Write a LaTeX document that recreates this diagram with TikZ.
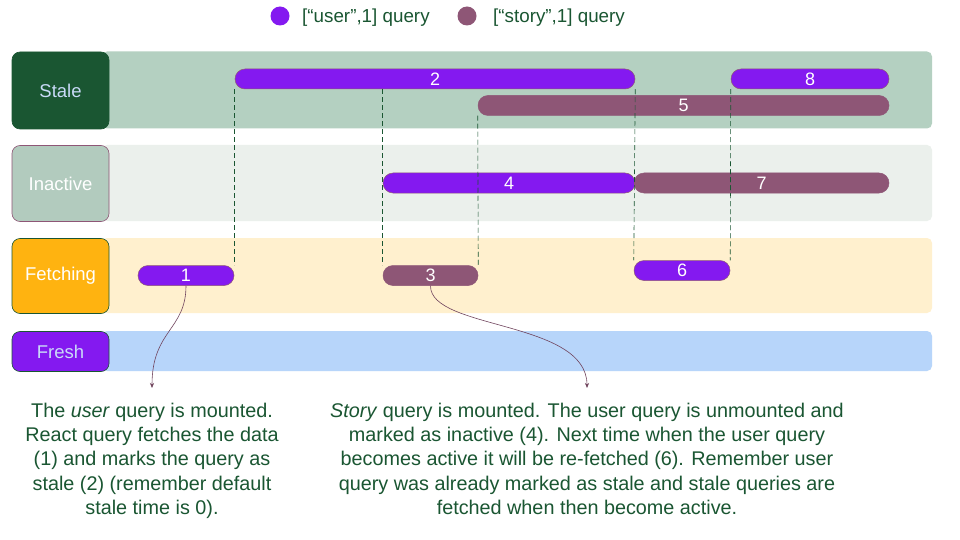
\documentclass[tikz,border=0pt]{standalone}
\usepackage{fontspec}
\setmainfont{Liberation Sans}
\usetikzlibrary{arrows.meta}
\definecolor{dgreen}{HTML}{1A5632}
\definecolor{staleband}{HTML}{B4D0C1}
\definecolor{inactband}{HTML}{EBF0EC}
\definecolor{inactlab}{HTML}{B2CBBE}
\definecolor{fetchlab}{HTML}{FFB310}
\definecolor{fetchband}{HTML}{FFF0CE}
\definecolor{freshband}{HTML}{B7D5FA}
\definecolor{upurple}{HTML}{8419F0}
\definecolor{mauve}{HTML}{8E5676}
\definecolor{labtext}{HTML}{C9DAF8}
\tikzset{
  x=1pt, y=-1pt,
  lab/.style={rectangle, rounded corners=8pt, minimum width=97pt, inner sep=0pt, font=\fontsize{18.5}{20}\selectfont, line width=0.6pt},
  band/.style={rectangle, rounded corners=5pt, inner sep=0pt},
  bar/.style={rectangle, rounded corners=10pt, minimum height=20pt, inner sep=0pt, text=white, font=\fontsize{18}{18}\selectfont, line width=0.5pt},
  ubar/.style={bar, fill=upurple, draw=mauve},
  sbar/.style={bar, fill=mauve, draw=mauve},
  guide/.style={dgreen, dash pattern=on 5pt off 3pt, line width=0.6pt},
  callout/.style={mauve!80!black, line width=0.6pt, -{Stealth[length=5pt,width=4pt]}},
  note/.style={text=dgreen, align=center, font=\fontsize{19.8}{24.2}\selectfont, inner sep=0pt},
  legtext/.style={text=dgreen, anchor=west, font=\fontsize{18.8}{20}\selectfont, inner sep=0pt},
}
\begin{document}
\begin{tikzpicture}
\useasboundingbox (0,0) rectangle (960,540);
\fill[white] (0,0) rectangle (960,540);

% legend
\node[circle, fill=upurple, minimum size=19pt, inner sep=0pt] (lc1) at (280,16) {};
\node[legtext] (lt1) at (302,17.5) {[“user”,1] query};
\node[circle, fill=mauve, minimum size=19pt, inner sep=0pt] (lc2) at (467,16) {};
\node[legtext] (lt2) at (493,17.5) {[“story”,1] query};

% bands
\node[band, fill=staleband, minimum width=830pt, minimum height=77pt] (bstale) at (517,90) {};
\node[band, fill=inactband, minimum width=830pt, minimum height=76pt] (binact) at (517,183) {};
\node[band, fill=fetchband, minimum width=830pt, minimum height=75pt] (bfetch) at (517,275.5) {};
\node[band, fill=freshband, minimum width=830pt, minimum height=40pt] (bfresh) at (517,351) {};

% row labels
\node[lab, fill=dgreen, draw=dgreen, text=labtext, minimum height=77pt] (lstale) at (60.5,90.5) {Stale};
\node[lab, fill=inactlab, draw=mauve, text=white, minimum height=76pt] (linact) at (60.5,183.5) {Inactive};
\node[lab, fill=fetchlab, draw=dgreen, text=white, minimum height=75pt] (lfetch) at (60.5,276) {Fetching};
\node[lab, fill=upurple, draw=dgreen, text=labtext, minimum height=40pt] (lfresh) at (60.5,351.5) {Fresh};

% bars
\node[ubar, minimum width=400pt] (b2) at (435,79) {2};
\node[ubar, minimum width=158pt] (b8) at (810,79) {8};
\node[sbar, minimum width=411pt] (b5) at (683.5,105.5) {5};
\node[ubar, minimum width=252pt] (b4) at (509,183) {4};
\node[sbar, minimum width=255pt] (b7) at (761.5,183) {7};
\node[ubar, minimum width=96pt] (b1) at (186,275.5) {1};
\node[sbar, minimum width=95pt] (b3) at (430.5,275.5) {3};
\node[ubar, minimum width=96pt] (b6) at (682,270.5) {6};

% dashed guides
\draw[guide] (b2.south west) -- (b2.south west |- b1.north);
\draw[guide] (b2.south -| b3.west) -- (b3.north west);
\draw[guide] (b5.south west) -- (b3.north east);
\draw[guide] (b2.south east) -- (b6.north west);
\draw[guide] (b8.south west) -- (b6.north east);

% callouts
\coordinate (e1) at (152,388);
\coordinate (e3) at (587,388);
\draw[callout] (b1.south) .. controls (186,330) and (152,330) .. (e1);
\draw[callout] (b3.south) .. controls (430,330) and (587,320) .. (e3);

% notes
\node[note, anchor=north] (n1) at (152,403) {The \textit{user} query is mounted.\\React query fetches the data\\(1) and marks the query as\\stale (2) (remember default\\stale time is 0).};
\node[note, anchor=north] (n2) at (587,403) {\textit{Story} query is mounted. The user query is unmounted and\\marked as inactive (4). Next time when the user query\\becomes active it will be re-fetched (6). Remember user\\query was already marked as stale and stale queries are\\fetched when then become active.};
\end{tikzpicture}
\end{document}
